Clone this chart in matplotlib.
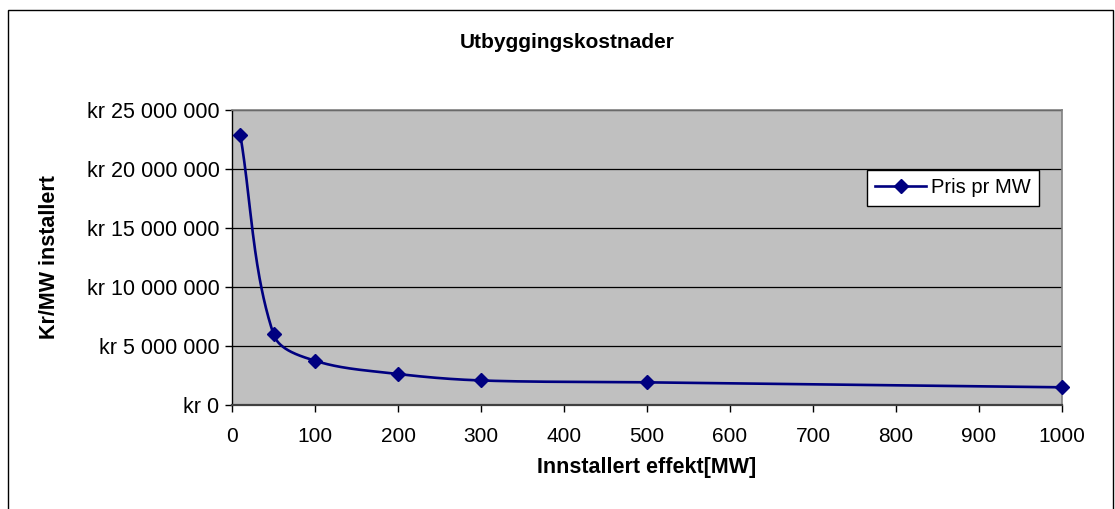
import numpy as np
import matplotlib
matplotlib.use("Agg")
import matplotlib.pyplot as plt
from matplotlib.patches import Rectangle
from matplotlib.ticker import FuncFormatter, MultipleLocator

plt.rcParams["font.family"] = ["Liberation Sans", "DejaVu Sans"]

# Installed capacity (MW) and cost per installed MW (kr)
capacity_mw = [10, 50, 100, 200, 300, 500, 1000]
price_per_mw = [22_900_000, 6_000_000, 3_750_000, 2_630_000, 2_080_000, 1_920_000, 1_500_000]

title = "Utbyggingskostnader"
x_label = "Innstallert effekt[MW]"
y_label = "Kr/MW installert"
series_label = "Pris pr MW"

W, H, DPI = 1115, 509, 100
fig = plt.figure(figsize=(W / DPI, H / DPI), dpi=DPI)

# plot area in pixels: left, top, right, bottom
L, T, R, B = 232, 110, 1062, 405
ax = fig.add_axes([L / W, (H - B) / H, (R - L) / W, (B - T) / H])
ax.set_facecolor("#C0C0C0")

x_max, y_max = 1000, 25_000_000
ax.set_xlim(0, x_max)
ax.set_ylim(0, y_max)


def smooth(xs, ys, n=60):
    """Bezier smoothing in screen-proportional space; tangent handles are
    scaled by each segment's own length so short segments don't overshoot."""
    sx, sy = (R - L) / x_max, (B - T) / y_max
    P = np.column_stack([np.asarray(xs, float) * sx, np.asarray(ys, float) * sy])
    m = len(P)
    tang = []
    for i in range(m):
        d = P[min(i + 1, m - 1)] - P[max(i - 1, 0)]
        tang.append(d / np.linalg.norm(d))
    out = []
    for i in range(m - 1):
        p1, p2 = P[i], P[i + 1]
        h = np.linalg.norm(p2 - p1) / 3.0
        c1 = p1 + tang[i] * h
        c2 = p2 - tang[i + 1] * h
        t = np.linspace(0, 1, n)[:, None]
        seg = ((1 - t) ** 3) * p1 + 3 * ((1 - t) ** 2) * t * c1 + 3 * (1 - t) * t ** 2 * c2 + t ** 3 * p2
        out.append(seg if i == 0 else seg[1:])
    pts = np.vstack(out)
    return pts[:, 0] / sx, pts[:, 1] / sy


navy = "#000080"
xs, ys = smooth(capacity_mw, price_per_mw)
ax.plot(xs, ys, color=navy, lw=1.9, zorder=3, solid_capstyle="round")
ax.plot(capacity_mw, price_per_mw, linestyle="none", marker="D", ms=7.5,
        color=navy, zorder=4, clip_on=False)
# legend proxy
ax.plot([], [], color=navy, lw=1.9, marker="D", ms=7.5, label=series_label)

# gridlines and frame
ax.yaxis.set_major_locator(MultipleLocator(5_000_000))
ax.xaxis.set_major_locator(MultipleLocator(100))
ax.grid(axis="y", color="black", lw=0.9)
ax.set_axisbelow(True)
for side in ("top", "right"):
    ax.spines[side].set_color("#808080")
    ax.spines[side].set_linewidth(1.2)
ax.spines["left"].set_color("black")
ax.spines["bottom"].set_color("#404040")
ax.spines["left"].set_linewidth(1.0)
ax.spines["bottom"].set_linewidth(1.6)

ax.yaxis.set_major_formatter(FuncFormatter(
    lambda v, p: "kr " + f"{int(round(v)):,}".replace(",", " ")))
ax.tick_params(axis="both", direction="out", length=5, width=1, colors="black",
               labelsize=15.5)
ax.tick_params(axis="x", labelsize=15)
ax.tick_params(axis="y", pad=4)
ax.tick_params(axis="x", pad=11)

ax.set_xlabel(x_label, fontsize=15.5, fontweight="bold")
ax.xaxis.label.set_va("center")
ax.xaxis.set_label_coords(0.5, (B - 467) / (B - T))
ax.set_ylabel(y_label, fontsize=15.5, fontweight="bold")
ax.yaxis.label.set_va("center")
ax.yaxis.set_label_coords((50 - L) / (R - L), 0.5)

fig.text(567 / W, 1 - 42 / H, title, ha="center", va="center",
         fontsize=15, fontweight="bold")

leg = ax.legend(loc="upper left", bbox_to_anchor=((867 - L) / (R - L), (B - 170) / (B - T)),
                frameon=True, fancybox=False, edgecolor="black", facecolor="white",
                framealpha=1, fontsize=14.5, borderpad=0.42, handlelength=2.5,
                handletextpad=0.25, borderaxespad=0)
leg.get_frame().set_linewidth(1.0)

# outer chart border
fig.patches.append(Rectangle((8 / W, -0.05), (1113 - 8) / W, 1 - 10 / H + 0.05,
                             transform=fig.transFigure, fill=False,
                             edgecolor="black", lw=1.0))

fig.savefig("out.png", dpi=DPI)
